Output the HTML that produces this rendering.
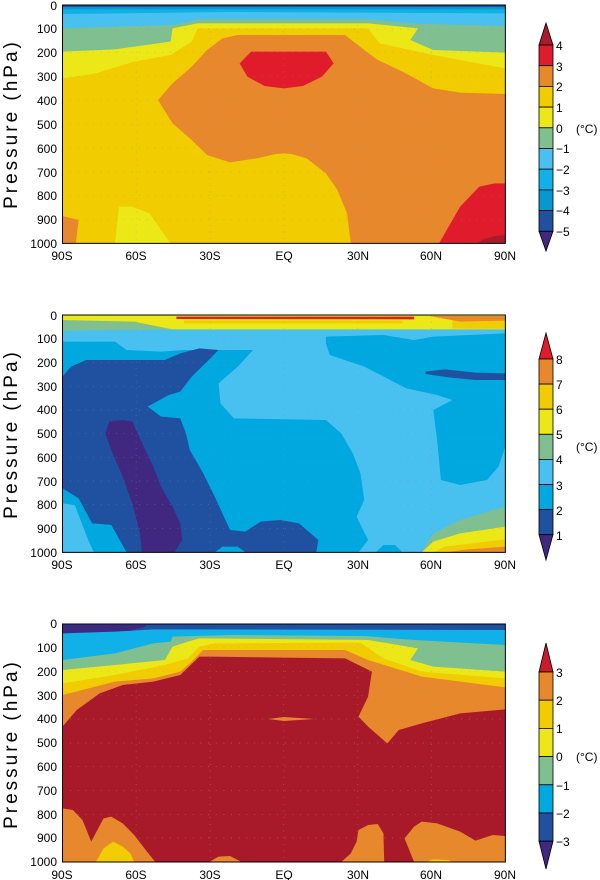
<!DOCTYPE html>
<html><head><meta charset="utf-8"><style>
html,body{margin:0;padding:0;background:#fff;}
svg{display:block;font-family:"Liberation Sans",sans-serif;}
</style></head><body>
<svg width="600" height="880" viewBox="0 0 600 880" xmlns="http://www.w3.org/2000/svg">
<defs>
<clipPath id="c1"><rect x="163" y="15" width="1155" height="715"/></clipPath>
<clipPath id="c2"><rect x="163" y="45" width="1155" height="712"/></clipPath>
<clipPath id="c3"><rect x="163" y="72" width="1155" height="714"/></clipPath>
</defs>

<!-- PANEL 1 -->
<g transform="translate(0,0) scale(0.38344,0.33333)">
<g clip-path="url(#c1)">
<rect x="163" y="15" width="1155" height="715" fill="#2050a0"/>
<rect x="163" y="21" width="1155" height="715" fill="#0898d0"/>
<rect x="163" y="28" width="1155" height="715" fill="#10b0e8"/>
<polygon points="163,42 600,36 1318,40 1318,730 163,730" fill="#48c0f0"/>
<polygon points="163,85 450,75 520,58 960,58 1100,72 1318,78 1318,730 163,730" fill="#80c090"/>
<polygon points="163,155 300,148 445,125 450,85 515,70 960,70 1090,85 1070,120 1130,150 1318,158 1318,730 163,730" fill="#ece818"/>
<polygon points="163,235 250,220 350,185 445,165 500,125 515,85 960,85 990,130 1070,150 1130,165 1318,205 1318,730 163,730" fill="#f0cc00"/>
<polygon points="300,730 310,620 345,620 390,640 420,690 445,730" fill="#ece818"/>
<polygon points="540,150 580,115 620,105 900,105 950,150 985,180 1050,215 1130,265 1200,278 1318,282 1318,730 915,730 905,640 880,570 850,520 800,475 760,462 740,460 720,462 670,475 600,487 540,465 500,420 450,370 412,300 450,250 500,200" fill="#e8882c"/>
<polygon points="163,648 205,660 198,730 163,730" fill="#e8882c"/>
<polygon points="655,155 850,155 870,190 840,230 790,258 740,265 690,258 645,230 625,190" fill="#e01c2c"/>
<polygon points="1318,550 1290,550 1250,560 1200,620 1170,680 1145,730 1318,730" fill="#e01c2c"/>
<polygon points="1245,730 1260,718 1290,708 1318,705 1318,730" fill="#a81c2c"/>
<g stroke="#909090" stroke-width="2" stroke-dasharray="2 18" vector-effect="non-scaling-stroke" fill="none" opacity="0.7">
<path d="M355,15V730M548,15V730M740,15V730M933,15V730M1125,15V730"/>
<path d="M163,87H1318M163,158H1318M163,230H1318M163,301H1318M163,373H1318M163,444H1318M163,516H1318M163,587H1318M163,659H1318"/>
</g>
</g>
<rect x="163" y="15" width="1155" height="715" fill="none" stroke="#000" stroke-width="1" vector-effect="non-scaling-stroke"/>
</g>

<!-- PANEL 2 -->
<g transform="translate(0,300) scale(0.38344,0.33333)">
<g clip-path="url(#c2)">
<rect x="163" y="45" width="1155" height="712" fill="#48c0f0"/>
<polygon points="163,125 300,125 330,150 420,155 480,150 560,150 660,150 620,200 570,250 575,310 610,355 850,360 890,400 920,460 940,520 950,600 930,650 960,720 935,757 163,757" fill="#00a8e0"/>
<polygon points="850,110 1000,105 1080,120 1130,110 1318,100 1318,440 1300,500 1270,540 1200,555 1150,540 1140,420 1130,330 1180,300 1140,285 1060,265 950,200 860,165 850,130" fill="#00a8e0"/>
<polygon points="980,757 1000,735 1030,735 1050,757" fill="#00a8e0"/>
<polygon points="163,230 185,200 225,180 430,180 470,160 520,145 570,150 540,185 500,230 470,275 440,285 385,320 420,350 470,355 485,400 495,450 530,520 560,590 580,640 600,690 640,695 680,665 730,660 780,670 830,720 825,757 640,757 620,740 580,740 560,757 330,757 290,675 240,670 205,595 163,565" fill="#2050a0"/>
<polygon points="163,565 205,595 240,670 290,675 330,757 163,757" fill="#00a8e0"/>
<polygon points="163,610 195,615 230,720 245,757 163,757" fill="#48c0f0"/>
<polygon points="285,365 320,360 345,365 375,440 400,500 420,560 450,620 470,670 475,720 455,757 370,757 365,700 345,610 320,530 290,450 275,400" fill="#402880"/>
<polygon points="1110,215 1160,208 1240,218 1318,220 1318,240 1240,240 1170,232 1110,222" fill="#2050a0"/>
<polygon points="163,45 1318,45 1318,88 163,88" fill="#ece818"/>
<polygon points="163,60 350,65 450,88 163,92" fill="#80c090"/>
<polygon points="480,62 1050,62 1050,70 480,70" fill="#f0cc00"/>
<polygon points="1180,60 1318,58 1318,86 1180,86" fill="#f0cc00"/>
<polygon points="1120,48 1318,48 1318,62 1200,65" fill="#e8882c"/>
<polygon points="460,50 1080,50 1080,58 460,57" fill="#e01c2c"/>
<polygon points="1100,757 1130,700 1200,660 1318,620 1318,757" fill="#80c090"/>
<polygon points="1100,757 1130,725 1200,700 1318,680 1318,757" fill="#ece818"/>
<polygon points="1130,757 1160,740 1318,718 1318,757" fill="#f0cc00"/>
<polygon points="1160,757 1220,748 1318,740 1318,757" fill="#e8882c"/>
<g stroke="#909090" stroke-width="2" stroke-dasharray="2 18" vector-effect="non-scaling-stroke" fill="none" opacity="0.7">
<path d="M355,45V757M548,45V757M740,45V757M933,45V757M1125,45V757"/>
<path d="M163,116H1318M163,187H1318M163,259H1318M163,330H1318M163,401H1318M163,472H1318M163,543H1318M163,614H1318M163,686H1318"/>
</g>
</g>
<rect x="163" y="45" width="1155" height="712" fill="none" stroke="#000" stroke-width="1" vector-effect="non-scaling-stroke"/>
</g>

<!-- PANEL 3 -->
<g transform="translate(0,600) scale(0.38344,0.33333)">
<g clip-path="url(#c3)">
<rect x="163" y="72" width="1155" height="714" fill="#2050a0"/>
<polygon points="163,75 380,75 380,80 330,95 250,105 163,100" fill="#402880"/>
<polygon points="163,100 300,95 400,88 1318,90 1318,786 163,786" fill="#10b0e8"/>
<polygon points="163,180 300,160 400,130 445,125 450,110 600,105 950,108 1080,120 1318,135 1318,786 163,786" fill="#80c090"/>
<polygon points="163,210 300,195 430,180 450,140 490,125 520,115 960,120 1090,145 1070,180 1130,200 1318,215 1318,786 163,786" fill="#ece818"/>
<polygon points="163,250 300,225 430,195 490,175 520,140 560,130 940,128 1000,175 1100,215 1318,235 1318,786 163,786" fill="#f0cc00"/>
<polygon points="163,285 300,245 400,235 470,215 500,185 530,150 560,150 900,150 960,180 1100,230 1318,262 1318,786 163,786" fill="#e8882c"/>
<polygon points="163,380 200,330 260,280 320,255 400,245 470,225 520,170 550,170 900,175 970,215 960,290 935,350 960,380 1010,430 1040,390 1100,370 1200,340 1318,328 1318,786 163,786" fill="#a81a2a"/>
<polygon points="163,786 163,625 190,630 215,660 238,725 270,655 290,650 320,670 350,705 380,750 405,786" fill="#e8882c"/>
<polygon points="250,786 270,745 295,725 320,740 340,760 350,786" fill="#f0cc00"/>
<polygon points="545,786 570,770 600,768 630,786" fill="#e8882c"/>
<polygon points="890,786 915,760 930,725 935,690 960,675 985,672 1000,700 1002,786" fill="#e8882c"/>
<polygon points="1080,786 1055,715 1080,680 1100,665 1140,670 1200,695 1240,722 1285,705 1318,708 1318,786" fill="#e8882c"/>
<polygon points="1110,786 1130,778 1170,780 1180,786" fill="#f0cc00"/>
<polygon points="700,357 740,351 820,357 740,363" fill="#e8882c"/>
<g stroke="#b0a080" stroke-width="2" stroke-dasharray="2 18" vector-effect="non-scaling-stroke" fill="none" opacity="0.7">
<path d="M355,72V786M548,72V786M740,72V786M933,72V786M1125,72V786"/>
<path d="M163,143H1318M163,215H1318M163,286H1318M163,357H1318M163,429H1318M163,500H1318M163,572H1318M163,643H1318M163,714H1318"/>
</g>
</g>
<rect x="163" y="72" width="1155" height="714" fill="none" stroke="#000" stroke-width="1" vector-effect="non-scaling-stroke"/>
</g>

<g font-size="12" fill="#000" text-anchor="end">
<text x="57" y="10">0</text><text x="57" y="33">100</text><text x="57" y="57">200</text><text x="57" y="81">300</text><text x="57" y="105">400</text><text x="57" y="129">500</text><text x="57" y="153">600</text><text x="57" y="177">700</text><text x="57" y="200">800</text><text x="57" y="224">900</text><text x="57" y="248">1000</text>
</g>
<g font-size="12" fill="#000" text-anchor="middle">
<text x="62" y="260">90S</text><text x="136" y="260">60S</text><text x="210" y="260">30S</text><text x="284" y="260">EQ</text><text x="358" y="260">30N</text><text x="431" y="260">60N</text><text x="505" y="260">90N</text>
</g>
<text transform="translate(17,124) rotate(-90)" font-size="19" text-anchor="middle" letter-spacing="3">Pressure  (hPa)</text>

<g font-size="12" fill="#000" text-anchor="end">
<text x="57" y="320">0</text><text x="57" y="343">100</text><text x="57" y="367">200</text><text x="57" y="391">300</text><text x="57" y="414">400</text><text x="57" y="438">500</text><text x="57" y="462">600</text><text x="57" y="486">700</text><text x="57" y="509">800</text><text x="57" y="533">900</text><text x="57" y="557">1000</text>
</g>
<g font-size="12" fill="#000" text-anchor="middle">
<text x="62" y="569">90S</text><text x="136" y="569">60S</text><text x="210" y="569">30S</text><text x="284" y="569">EQ</text><text x="358" y="569">30N</text><text x="431" y="569">60N</text><text x="505" y="569">90N</text>
</g>
<text transform="translate(17,434) rotate(-90)" font-size="19" text-anchor="middle" letter-spacing="3">Pressure  (hPa)</text>

<g font-size="12" fill="#000" text-anchor="end">
<text x="57" y="628">0</text><text x="57" y="652">100</text><text x="57" y="676">200</text><text x="57" y="700">300</text><text x="57" y="723">400</text><text x="57" y="747">500</text><text x="57" y="771">600</text><text x="57" y="795">700</text><text x="57" y="819">800</text><text x="57" y="842">900</text><text x="57" y="866">1000</text>
</g>
<g font-size="12" fill="#000" text-anchor="middle">
<text x="62" y="879">90S</text><text x="136" y="879">60S</text><text x="210" y="879">30S</text><text x="284" y="879">EQ</text><text x="358" y="879">30N</text><text x="431" y="879">60N</text><text x="505" y="879">90N</text>
</g>
<text transform="translate(17,744) rotate(-90)" font-size="19" text-anchor="middle" letter-spacing="3">Pressure  (hPa)</text>

<g stroke="#000" stroke-width="0.8">
<polygon points="546,23 553,45 539,45" fill="#a81c2c"/>
<rect x="539" y="45" width="14" height="20.7" fill="#e01c2c"/>
<rect x="539" y="65.7" width="14" height="20.7" fill="#e8882c"/>
<rect x="539" y="86.4" width="14" height="20.7" fill="#f0cc00"/>
<rect x="539" y="107.1" width="14" height="20.7" fill="#ece818"/>
<rect x="539" y="127.8" width="14" height="20.7" fill="#80c090"/>
<rect x="539" y="148.5" width="14" height="20.7" fill="#48c0f0"/>
<rect x="539" y="169.2" width="14" height="20.7" fill="#10b0e8"/>
<rect x="539" y="189.9" width="14" height="20.7" fill="#0898d0"/>
<rect x="539" y="210.6" width="14" height="20.7" fill="#2050a0"/>
<polygon points="539,231.3 553,231.3 546,251" fill="#402880"/>
</g>
<g font-size="12">
<text x="556" y="50">4</text><text x="556" y="71">3</text><text x="556" y="91">2</text><text x="556" y="112">1</text><text x="556" y="133">0</text><text x="556" y="153">−1</text><text x="556" y="174">−2</text><text x="556" y="195">−3</text><text x="556" y="215">−4</text><text x="556" y="236">−5</text>
<text x="576" y="133">(°C)</text>
</g>

<g stroke="#000" stroke-width="0.8">
<polygon points="546,333 553,359 539,359" fill="#e01c2c"/>
<rect x="539" y="359" width="14" height="25.1" fill="#e8882c"/>
<rect x="539" y="384.1" width="14" height="25.1" fill="#f0cc00"/>
<rect x="539" y="409.2" width="14" height="25.1" fill="#ece818"/>
<rect x="539" y="434.3" width="14" height="25.1" fill="#80c090"/>
<rect x="539" y="459.4" width="14" height="25.1" fill="#48c0f0"/>
<rect x="539" y="484.5" width="14" height="25.1" fill="#00a8e0"/>
<rect x="539" y="509.6" width="14" height="25.1" fill="#2050a0"/>
<polygon points="539,534.7 553,534.7 546,560" fill="#402880"/>
</g>
<g font-size="12">
<text x="556" y="364">8</text><text x="556" y="389">7</text><text x="556" y="414">6</text><text x="556" y="439">5</text><text x="556" y="464">4</text><text x="556" y="490">3</text><text x="556" y="515">2</text><text x="556" y="540">1</text>
<text x="576" y="451">(°C)</text>
</g>

<g stroke="#000" stroke-width="0.8">
<polygon points="546,643 553,672 539,672" fill="#c81c2c"/>
<rect x="539" y="672" width="14" height="28.2" fill="#e8882c"/>
<rect x="539" y="700.2" width="14" height="28.2" fill="#f0cc00"/>
<rect x="539" y="728.4" width="14" height="28.2" fill="#ece818"/>
<rect x="539" y="756.6" width="14" height="28.2" fill="#80c090"/>
<rect x="539" y="784.8" width="14" height="28.2" fill="#00a8e0"/>
<rect x="539" y="813" width="14" height="28.2" fill="#2050a0"/>
<polygon points="539,841.2 553,841.2 546,869" fill="#402880"/>
</g>
<g font-size="12">
<text x="556" y="677">3</text><text x="556" y="705">2</text><text x="556" y="733">1</text><text x="556" y="761">0</text><text x="556" y="790">−1</text><text x="556" y="818">−2</text><text x="556" y="846">−3</text>
<text x="576" y="761">(°C)</text>
</g>
</svg>
</body></html>
